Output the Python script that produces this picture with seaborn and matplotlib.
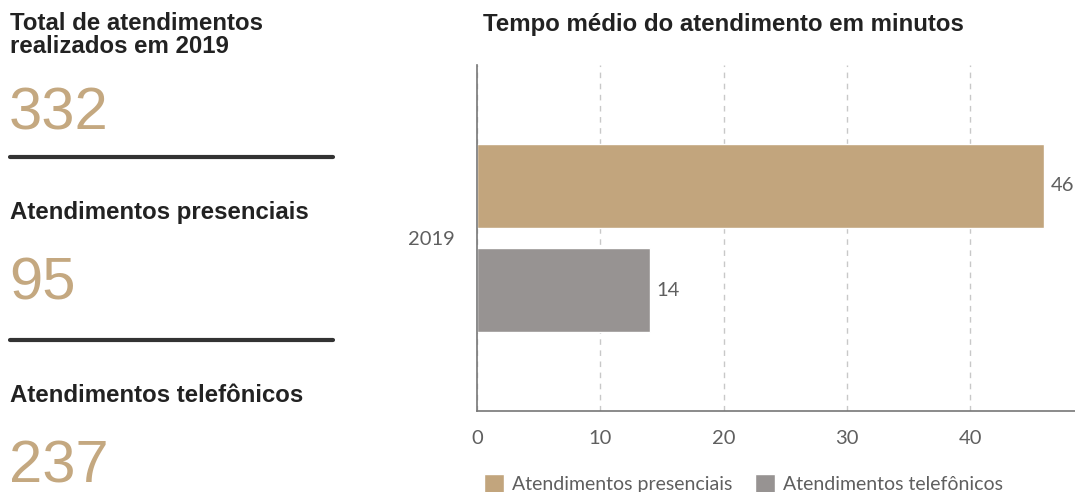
import matplotlib
matplotlib.use("Agg")
import matplotlib.pyplot as plt
from matplotlib.lines import Line2D
import seaborn as sns
import pandas as pd

# Data
years = ["2019"]
series = ["Atendimentos presenciais", "Atendimentos telefônicos"]
avg_minutes = [46, 14]
totals_labels = ["Total de atendimentos\nrealizados em 2019",
                 "Atendimentos presenciais",
                 "Atendimentos telefônicos"]
totals_values = [332, 95, 237]
x_ticks = [0, 10, 20, 30, 40]

GOLD = "#c2a57d"
GRAY = "#979392"
NUM_COLOR = "#c4a880"
TEXT_GRAY = "#5f5f5f"

df = pd.DataFrame({
    "ano": [years[0]] * len(series),
    "tipo": series,
    "minutos": avg_minutes,
})

sns.set_theme(style="white")
plt.rcParams["font.family"] = ["Lato", "DejaVu Sans"]

fig = plt.figure(figsize=(10.75, 4.92), dpi=100)
ax = fig.add_axes([477 / 1075, 1 - 411 / 492, 1 - 477 / 1075, (411 - 65) / 492])

sns.barplot(data=df, y="ano", x="minutos", hue="tipo", orient="h",
            palette=[GOLD, GRAY], width=0.8, gap=0.2, saturation=1,
            ax=ax, legend=True)

ax.set_xlim(0, 48.5)
ax.set_ylim(0.665, -0.665)
ax.set_xticks(x_ticks)
ax.set_xlabel("")
ax.set_ylabel("")
ax.grid(axis="x", color="#c8c8c8", linestyle=(0, (4, 4)), linewidth=1)
ax.grid(axis="y", visible=False)
for side in ["top", "right"]:
    ax.spines[side].set_visible(False)
for side in ["left", "bottom"]:
    ax.spines[side].set_color("#777777")
    ax.spines[side].set_linewidth(1.2)
ax.tick_params(axis="x", length=0, pad=14, labelsize=14.5, labelcolor=TEXT_GRAY)
ax.tick_params(axis="y", length=0, pad=16, labelsize=14.5, labelcolor=TEXT_GRAY)

for cont in ax.containers:
    ax.bar_label(cont, fmt="%d", padding=4.5, fontsize=14.5, color=TEXT_GRAY)

leg = ax.legend(loc="center", bbox_to_anchor=(0.4457, -0.21), ncol=2, frameon=False,
                fontsize=14, handlelength=1.0, handleheight=1.1, handletextpad=0.4,
                columnspacing=1.2, borderaxespad=0)
for t in leg.get_texts():
    t.set_color(TEXT_GRAY)

# Title of the bar chart
fig.text(483 / 1075, 1 - 25 / 492, "Tempo médio do atendimento em minutos",
         family="Liberation Sans", weight="bold", fontsize=17.3,
         color="#222222", ha="left", va="center")

# Summary panel on the left
head_y = [35, 212, 396]
num_y = [114, 284, 467]
for lbl, val, hy, ny in zip(totals_labels, totals_values, head_y, num_y):
    fig.text(10 / 1075, 1 - hy / 492, lbl, family="Liberation Sans",
             weight="bold", fontsize=17.3, color="#222222",
             ha="left", va="center", linespacing=0.95)
    fig.text(9 / 1075, 1 - ny / 492, str(val), family="Liberation Sans",
             fontsize=43, color=NUM_COLOR, ha="left", va="center")

for ly in [157, 340]:
    fig.add_artist(Line2D([10 / 1075, 333 / 1075], [1 - ly / 492, 1 - ly / 492],
                          transform=fig.transFigure, color="#333333", linewidth=3))

fig.savefig("out.png", dpi=100)
